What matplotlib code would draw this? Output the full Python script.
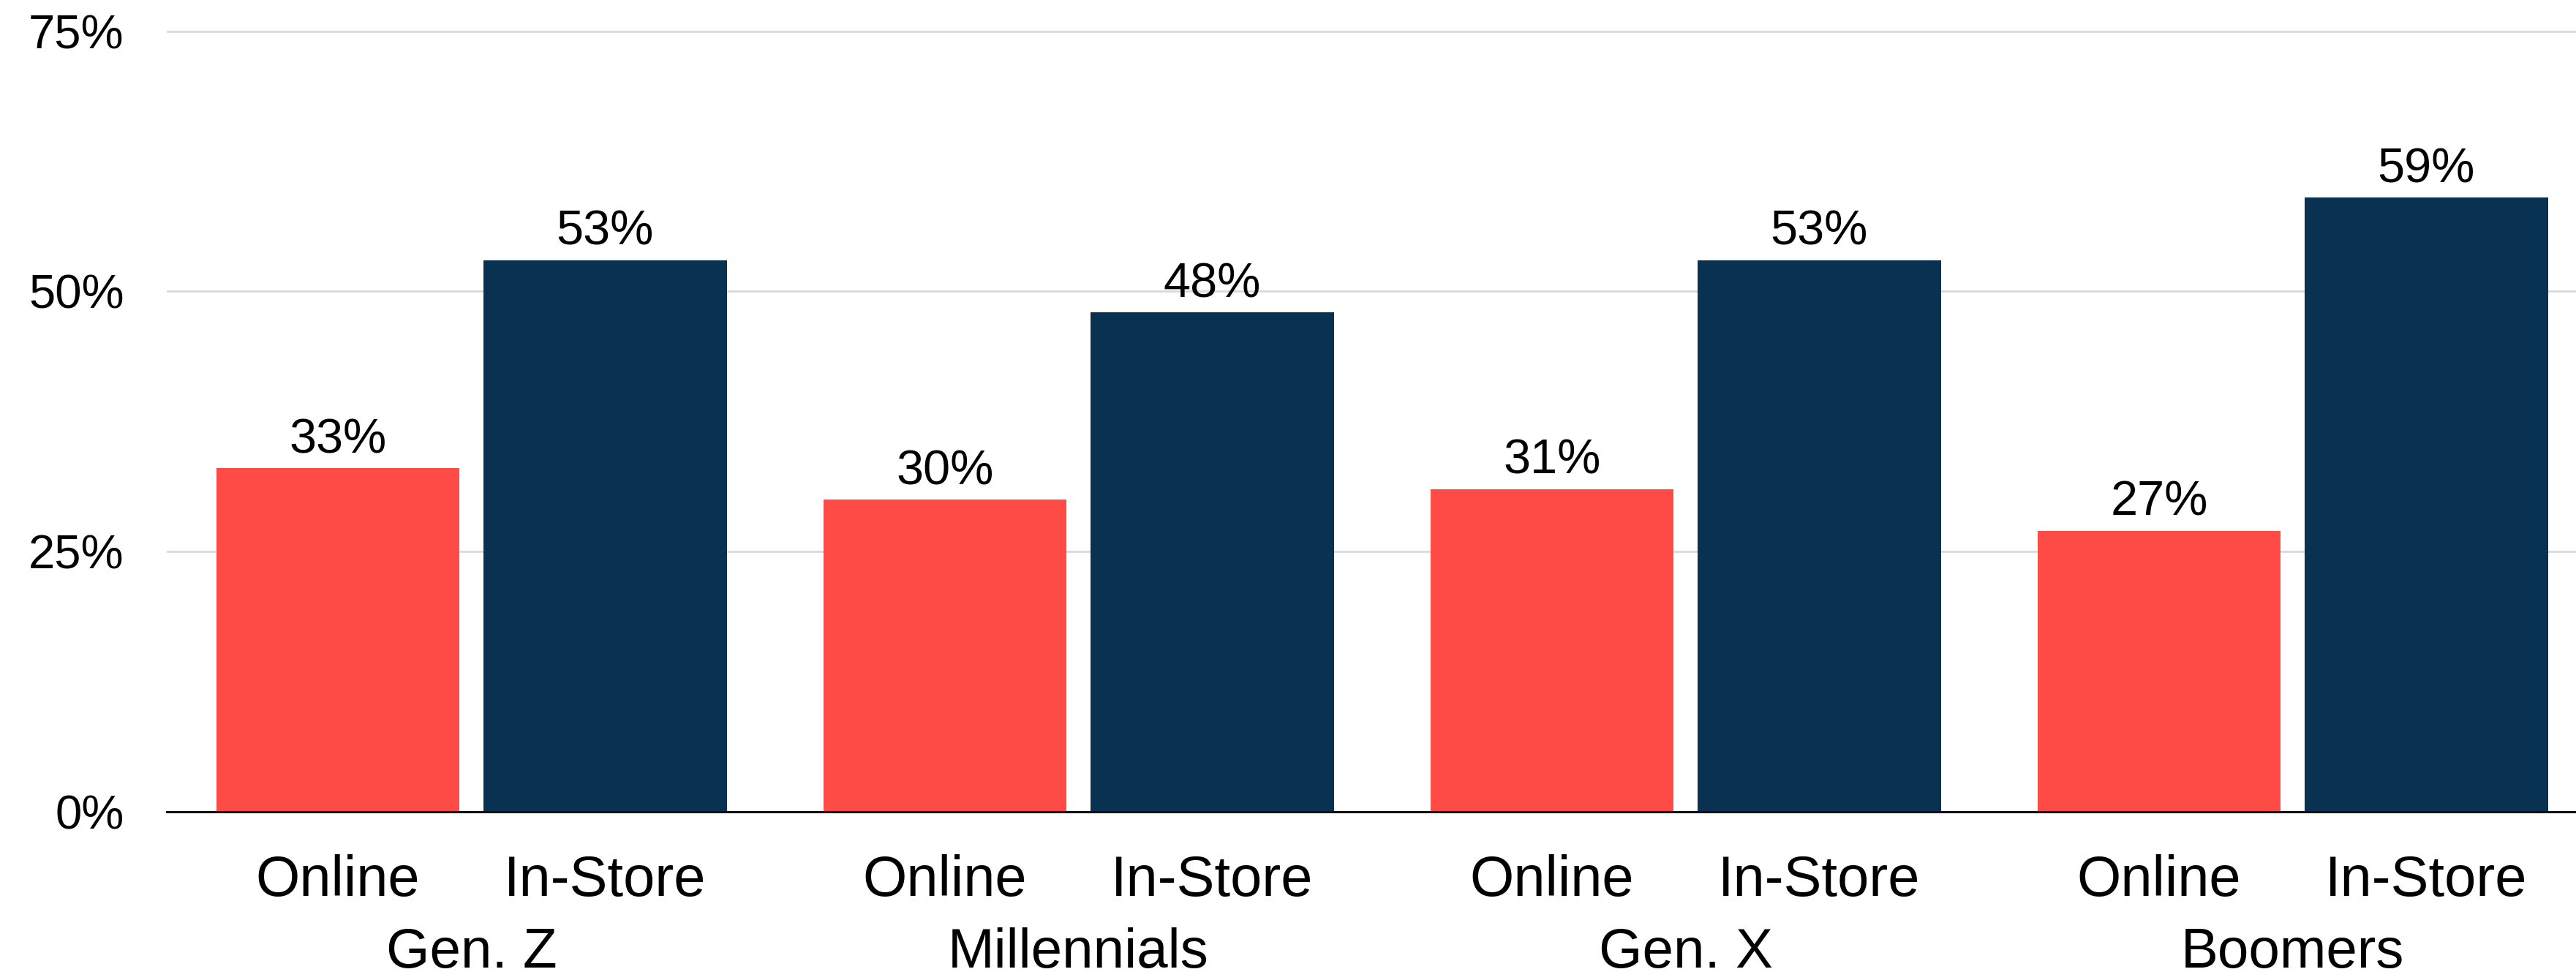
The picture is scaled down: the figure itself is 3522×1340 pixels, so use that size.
import matplotlib
matplotlib.use("Agg")
import matplotlib.pyplot as plt
import numpy as np

groups = ["Gen. Z", "Millennials", "Gen. X", "Boomers"]
online = [33, 30, 31, 27]
in_store = [53, 48, 53, 59]
channel_labels = ["Online", "In-Store"]
y_ticks = [0, 25, 50, 75]

red = "#FF4B46"
navy = "#093152"

plt.rcParams["font.family"] = ["Liberation Sans", "DejaVu Sans"]

fig = plt.figure(figsize=(35.23, 13.40), dpi=100)
ax = fig.add_axes([0.0647, 0.1716, 0.9353, 0.8284])

x = np.arange(len(groups))
w = 0.401
off = 0.22
b1 = ax.bar(x - off, online, w, color=red, zorder=3)
b2 = ax.bar(x + off, in_store, w, color=navy, zorder=3)

# value labels above bars
for bars in (b1, b2):
    for r in bars:
        ax.annotate(f"{r.get_height():.0f}%", (r.get_x() + r.get_width() / 2, r.get_height()),
                    xytext=(0, 5), textcoords="offset points",
                    ha="center", va="bottom", fontsize=48, color="black")

ax.set_xlim(-0.502, 3.468)
ax.set_ylim(0, 78)

ax.set_yticks(y_ticks)
ax.set_yticklabels([f"{v}%" for v in y_ticks], fontsize=47)
ax.tick_params(axis="y", length=0, pad=42)

ticks = np.concatenate([x - off, x + off])
labels = [channel_labels[0]] * len(x) + [channel_labels[1]] * len(x)
ax.set_xticks(ticks)
ax.set_xticklabels(labels, fontsize=56)
ax.tick_params(axis="x", length=0, pad=42)

# group names under the channel labels
for i, g in enumerate(groups):
    ax.annotate(g, (i, 0), xycoords=("data", "axes fraction"),
                xytext=(0, -114), textcoords="offset points",
                ha="center", va="top", fontsize=55)

ax.yaxis.grid(True, color="#D9D9D9", linewidth=2, zorder=0)
ax.set_axisbelow(True)
for s in ["top", "right", "left"]:
    ax.spines[s].set_visible(False)
ax.spines["bottom"].set_color("#111111")
ax.spines["bottom"].set_linewidth(2.2)
ax.spines["bottom"].set_zorder(4)

fig.savefig("out.png", dpi=100)
